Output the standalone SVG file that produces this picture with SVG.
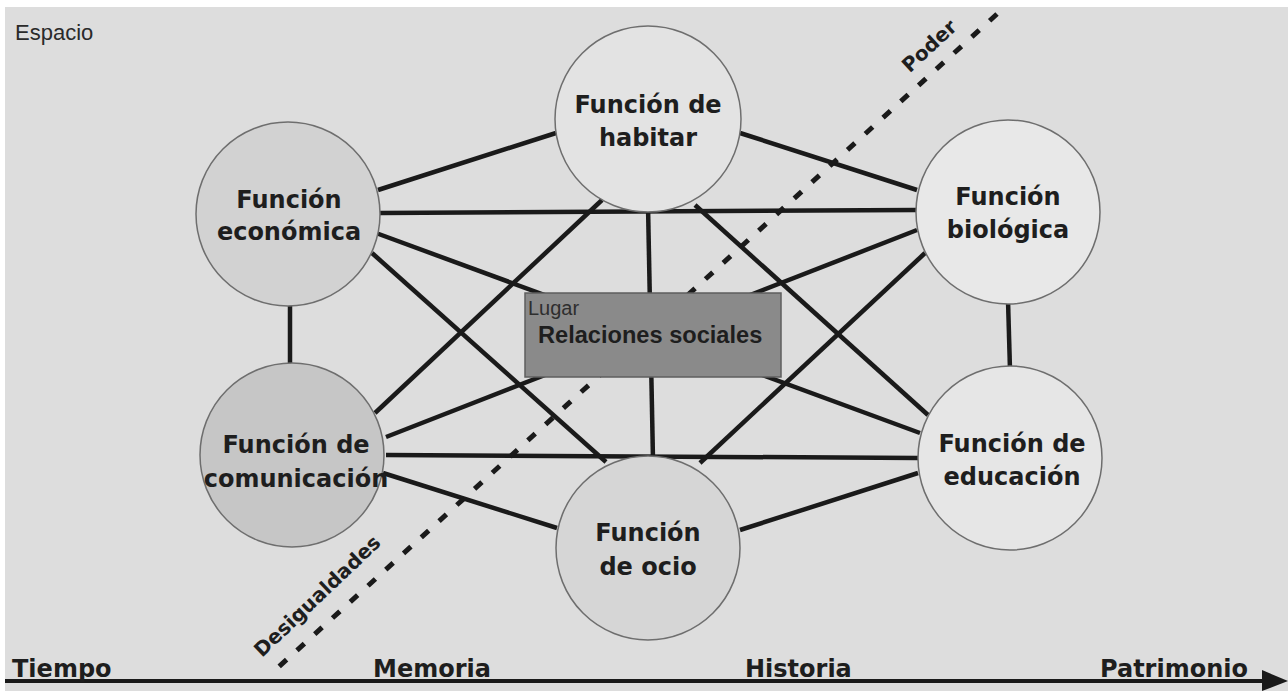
<svg xmlns="http://www.w3.org/2000/svg" width="1288" height="691" viewBox="0 0 1288 691">
<style>
.bg{fill:#dddddd}
.node circle{stroke:#6e6e6e;stroke-width:1.5}
.lbl{font-family:"DejaVu Sans",Verdana,sans-serif;font-weight:bold;font-size:24px;fill:#1e1e1e;text-anchor:middle}
.conn line{stroke:#1a1a1a;stroke-width:4.5;stroke-linecap:butt}
.axis{font-family:"DejaVu Sans",Verdana,sans-serif;font-weight:bold;font-size:24px;fill:#1e1e1e}
.diag{font-family:"DejaVu Sans",Verdana,sans-serif;font-weight:bold;font-size:20px;fill:#1e1e1e;text-anchor:middle}
</style>
<rect x="0" y="0" width="1288" height="691" fill="#ffffff"/>
<rect class="bg" x="5" y="7" width="1283" height="684"/>
<text x="15" y="40" font-family="Liberation Sans,Arial,sans-serif" font-size="22" fill="#2a2a2a">Espacio</text>

<g id="connectors" class="conn">
<line x1="378" y1="190" x2="556" y2="133"/>
<line x1="380" y1="213" x2="917" y2="210"/>
<line x1="376" y1="233" x2="920" y2="433"/>
<line x1="372" y1="253" x2="606" y2="462"/>
<line x1="290" y1="300" x2="290" y2="368"/>
<line x1="740" y1="133" x2="917" y2="190"/>
<line x1="602" y1="200" x2="375" y2="413"/>
<line x1="648" y1="205" x2="653" y2="460"/>
<line x1="695" y1="205" x2="928" y2="415"/>
<line x1="917" y1="230" x2="386" y2="437"/>
<line x1="925" y1="253" x2="700" y2="463"/>
<line x1="1008" y1="300" x2="1010" y2="370"/>
<line x1="386" y1="455" x2="918" y2="458"/>
<line x1="383" y1="473" x2="557" y2="528"/>
<line x1="740" y1="530" x2="918" y2="473"/>
</g>

<g id="divider">
<line x1="997" y1="14" x2="272" y2="673" stroke="#1a1a1a" stroke-width="5" stroke-dasharray="10 14"/>
<text class="diag" transform="translate(934,51) rotate(-43)">Poder</text>
<text class="diag" transform="translate(322,601) rotate(-43.5)">Desigualdades</text>
</g>

<g id="lugar">
<rect x="525" y="293" width="256" height="84" fill="#8a8a8a" stroke="#5e5e5e" stroke-width="1.5"/>
<text x="528" y="315" font-family="Liberation Sans,Arial,sans-serif" font-size="20" fill="#2e2e2e">Lugar</text>
<text x="538" y="343" font-family="Liberation Sans,Arial,sans-serif" font-size="23.6" font-weight="bold" fill="#1e1e1e">Relaciones sociales</text>
</g>

<g id="habitar" class="node">
<circle cx="648" cy="119" r="93" fill="#e3e3e3"/>
<text class="lbl" x="648" y="113">Función de</text>
<text class="lbl" x="648" y="146">habitar</text>
</g>
<g id="economica" class="node">
<circle cx="288" cy="214" r="92" fill="#d2d2d2"/>
<text class="lbl" x="289" y="208">Función</text>
<text class="lbl" x="289" y="240">económica</text>
</g>
<g id="biologica" class="node">
<circle cx="1008" cy="212" r="92" fill="#e8e8e8"/>
<text class="lbl" x="1008" y="205">Función</text>
<text class="lbl" x="1008" y="238">biológica</text>
</g>
<g id="comunicacion" class="node">
<circle cx="292" cy="455" r="92" fill="#c6c6c6"/>
<text class="lbl" x="296" y="453">Función de</text>
<text class="lbl" x="296" y="487">comunicación</text>
</g>
<g id="ocio" class="node">
<circle cx="648" cy="548" r="92" fill="#d6d6d6"/>
<text class="lbl" x="648" y="541">Función</text>
<text class="lbl" x="648" y="575">de ocio</text>
</g>
<g id="educacion" class="node">
<circle cx="1010" cy="458" r="92" fill="#e6e6e6"/>
<text class="lbl" x="1012" y="452">Función de</text>
<text class="lbl" x="1012" y="485">educación</text>
</g>

<g id="timeline">
<line x1="5" y1="681" x2="1266" y2="681" stroke="#1a1a1a" stroke-width="4"/>
<polygon points="1262,670 1288,681 1262,691" fill="#1a1a1a"/>
<text class="axis" x="12" y="677">Tiempo</text>
<text class="axis" x="373" y="677">Memoria</text>
<text class="axis" x="745" y="677">Historia</text>
<text class="axis" x="1100" y="677">Patrimonio</text>
</g>
</svg>
